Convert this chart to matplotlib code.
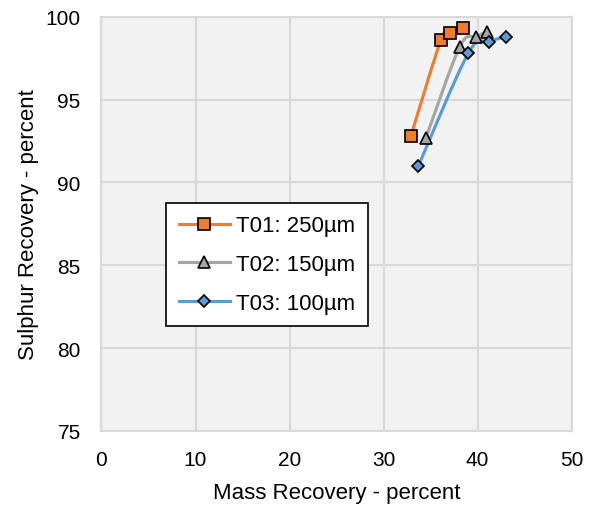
import matplotlib.pyplot as plt
import numpy as np
from matplotlib.path import Path
from matplotlib.patches import PathPatch

plt.rcParams['font.family'] = ['Liberation Sans', 'DejaVu Sans']

# data
t01_mass = [32.9, 36.1, 37.1, 38.4]
t01_sulphur = [92.8, 98.6, 99.0, 99.3]
t02_mass = [34.5, 38.1, 39.8, 41.0]
t02_sulphur = [92.7, 98.2, 98.8, 99.1]
t03_mass = [33.7, 39.0, 41.2, 43.0]
t03_sulphur = [91.0, 97.8, 98.5, 98.8]

labels = ['T01: 250µm', 'T02: 150µm', 'T03: 100µm']
colors = ['#ED7D31', '#A5A5A5', '#5B9BD5']
markers = ['s', '^', 'D']
msizes = [9, 9, 6.5]


def smooth_path(x, y, tension=1 / 6):
    # Catmull-Rom style bezier through the points (like Excel smoothed lines)
    pts = np.column_stack([x, y])
    verts = [pts[0]]
    codes = [Path.MOVETO]
    n = len(pts)
    for i in range(n - 1):
        p0 = pts[i - 1] if i > 0 else pts[i]
        p1 = pts[i]
        p2 = pts[i + 1]
        p3 = pts[i + 2] if i + 2 < n else pts[i + 1]
        c1 = p1 + (p2 - p0) * tension
        c2 = p2 - (p3 - p1) * tension
        verts += [c1, c2, p2]
        codes += [Path.CURVE4] * 3
    return Path(verts, codes)


fig = plt.figure(figsize=(5.9, 5.1), dpi=100)
ax = fig.add_axes([0.172, 0.153, 0.797, 0.812])
ax.set_facecolor('#F2F2F2')

series = [(t01_mass, t01_sulphur), (t02_mass, t02_sulphur), (t03_mass, t03_sulphur)]
for (x, y), lab, c, m, ms in zip(series, labels, colors, markers, msizes):
    ax.add_patch(PathPatch(smooth_path(x, y), facecolor='none', edgecolor=c, lw=2.25, zorder=3))
    ax.plot(x, y, linestyle='none', marker=m, markersize=ms, markerfacecolor=c,
            markeredgecolor='black', markeredgewidth=1.2, zorder=4)
    # proxy for legend
    ax.plot([], [], color=c, lw=2.25, marker=m, markersize=ms, markerfacecolor=c,
            markeredgecolor='black', markeredgewidth=1.2, label=lab)

ax.set_xlim(0, 50)
ax.set_ylim(75, 100)
ax.set_xticks([0, 10, 20, 30, 40, 50])
ax.set_yticks([75, 80, 85, 90, 95, 100])
ax.grid(True, color='#D9D9D9', lw=1.5)
ax.set_axisbelow(True)
for s in ax.spines.values():
    s.set_color('#D9D9D9')
    s.set_linewidth(1.5)
ax.tick_params(length=0, labelsize=15)
ax.tick_params(axis='x', pad=14)
ax.tick_params(axis='y', pad=15)
ax.set_xlabel('Mass Recovery - percent', fontsize=16, labelpad=9)
ax.set_ylabel('Sulphur Recovery - percent', fontsize=16, labelpad=5)

leg = ax.legend(loc='upper left', bbox_to_anchor=(0.138, 0.55), fontsize=16,
                frameon=True, fancybox=False, edgecolor='black', facecolor='white',
                framealpha=1, handlelength=2.3, handletextpad=0.3, labelspacing=0.8,
                borderpad=0.55, borderaxespad=0)
leg.get_frame().set_linewidth(1.2)

fig.savefig('out.png', dpi=100)
